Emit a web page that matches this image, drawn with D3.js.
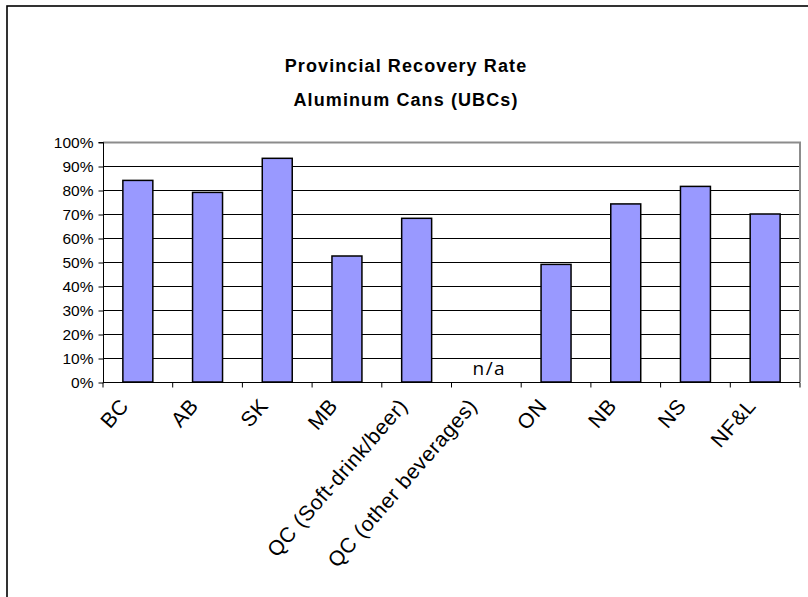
<!DOCTYPE html>
<html><head><meta charset="utf-8">
<script src="https://cdn.jsdelivr.net/npm/d3@7"></script>
<style>body{margin:0;background:#fff}svg{display:block}</style>
</head><body>
<svg id="c" width="808" height="597"></svg>
<script>
const categories = ["BC","AB","SK","MB","QC (Soft-drink/beer)","QC (other beverages)","ON","NB","NS","NF&L"];
const values = [84.0, 79.0, 93.2, 52.5, 68.2, null, 49.0, 74.2, 81.5, 70.0];
const yTicks = [0,10,20,30,40,50,60,70,80,90,100];
const titleLines = ["Provincial Recovery Rate","Aluminum Cans (UBCs)"];
const naLabel = "n/a";

const svg = d3.select("#c");
const L=103, R=800, T=142, B=382;

svg.append("rect").attr("x",7).attr("y",6).attr("width",900).attr("height",700)
  .attr("fill","none").attr("stroke","#000").attr("stroke-width",1.6);

const x = d3.scaleBand().domain(categories).range([L,R]).paddingInner(0.57).paddingOuter(0.285);
const xc = d3.scaleBand().domain(categories).range([L,R]);
const y = d3.scaleLinear().domain([0,100]).range([B,T]);

// gridlines
svg.append("g").selectAll("line").data(yTicks.filter(d=>d>0&&d<100)).join("line")
  .attr("x1",L).attr("x2",R).attr("y1",d=>y(d)+0.5).attr("y2",d=>y(d)+0.5)
  .attr("stroke","#000").attr("stroke-width",1);
// plot border top/right grey
svg.append("path").attr("d",`M${L},${T+0.5}H${R}V${B}`).attr("fill","none")
  .attr("stroke","#8c8c8c").attr("stroke-width",2);

// bars
svg.append("g").selectAll("rect").data(categories.map((c,i)=>({c,v:values[i]})).filter(d=>d.v!=null)).join("rect")
  .attr("x",d=>x(d.c)).attr("width",x.bandwidth())
  .attr("y",d=>y(d.v)).attr("height",d=>B-y(d.v))
  .attr("fill","#9999ff").attr("stroke","#000").attr("stroke-width",1.5);

// y axis
const ya = d3.axisLeft(y).tickValues(yTicks).tickFormat(d=>d+"%").tickSize(5).tickPadding(5);
const gy = svg.append("g").attr("transform",`translate(${L+0.5},0.5)`).call(ya);
gy.select(".domain").attr("d",`M-5,${T}H0V${B}`);
gy.selectAll("text").attr("font-family","Liberation Sans, Arial, sans-serif").attr("font-size",15.5).attr("fill","#000").attr("dy","0.35em");

// x axis
const gx = svg.append("g").attr("transform",`translate(0,${B+0.5})`);
gx.append("line").attr("x1",L).attr("x2",R).attr("stroke","#000").attr("stroke-width",1);
gx.selectAll("line.t").data(categories.concat(["__end"])).join("line").attr("class","t")
  .attr("x1",(d,i)=>L+i*xc.bandwidth()).attr("x2",(d,i)=>L+i*xc.bandwidth())
  .attr("y1",0).attr("y2",5).attr("stroke","#000");
gx.selectAll("text").data(categories).join("text")
  .attr("transform",d=>`translate(${xc(d)+xc.bandwidth()/2-8},${24}) rotate(-49)`)
  .attr("text-anchor","end")
  .attr("font-family","Liberation Sans, Arial, sans-serif").attr("font-size",21).attr("fill","#000")
  .attr("letter-spacing",0.6)
  .text(d=>d);

// n/a
svg.append("text").attr("x",xc(categories[5])+xc.bandwidth()/2+3).attr("y",B-7)
  .attr("text-anchor","middle").attr("font-family","Open Sans, sans-serif").attr("font-size",19)
  .attr("letter-spacing",1.5).attr("fill","#000").text(naLabel);

// title
svg.append("g").selectAll("text").data(titleLines).join("text")
  .attr("x",406).attr("y",(d,i)=>72+i*34).attr("text-anchor","middle")
  .attr("font-family","Liberation Sans, Arial, sans-serif").attr("font-weight","bold").attr("font-size",18)
  .attr("letter-spacing",1.1)
  .attr("fill","#000").text(d=>d);
</script>
</body></html>
